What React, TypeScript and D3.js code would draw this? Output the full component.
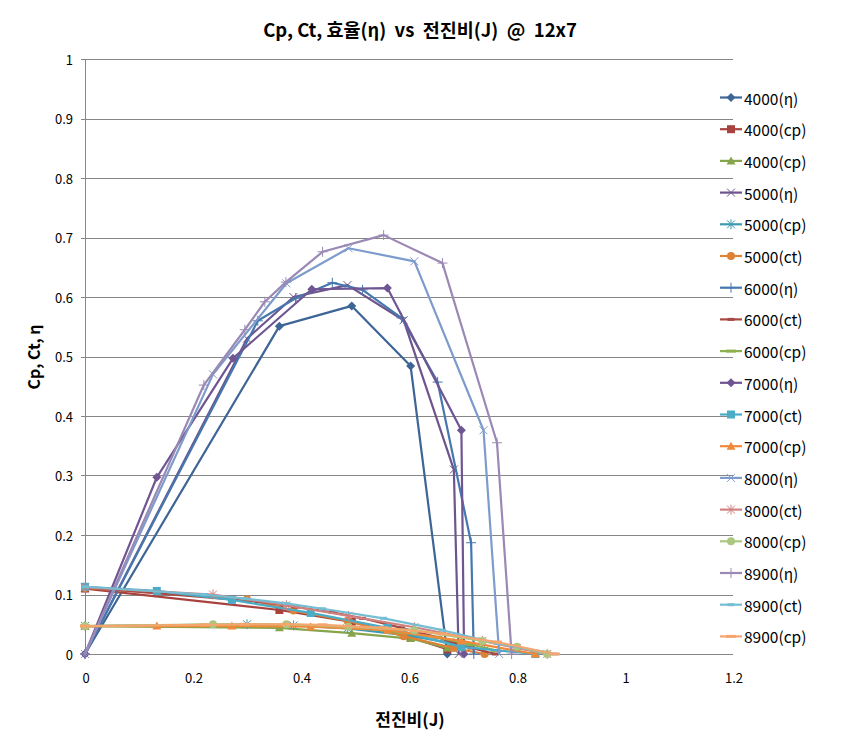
import React from "react";
import * as d3 from "d3";

// ---- data ----
const J_4000_ETA = [0, 0.36, 0.494, 0.603, 0.671];
const ETA_4000 = [0, 0.551, 0.585, 0.484, 0];
const J_4000_C = [0, 0.36, 0.494, 0.603, 0.671];
const CT_4000 = [0.11, 0.074, 0.054, 0.028, 0.008];
const CP_4000 = [0.047, 0.044, 0.035, 0.026, 0.01];

const J_5000_ETA = [0, 0.3, 0.386, 0.486, 0.59, 0.683, 0.692];
const ETA_5000 = [0, 0.53, 0.6, 0.62, 0.561, 0.31, 0];
const J_5000_C = [0, 0.3, 0.386, 0.486, 0.59, 0.683, 0.74];
const CP_5000 = [0.047, 0.05, 0.048, 0.043, 0.032, 0.018, 0.006];
const CT_5000 = [0.111, 0.092, 0.073, 0.056, 0.03, 0.01, 0.0];

const J_6000_ETA = [0, 0.32, 0.39, 0.458, 0.514, 0.586, 0.653, 0.715, 0.72];
const ETA_6000 = [0, 0.56, 0.598, 0.624, 0.612, 0.565, 0.457, 0.187, 0];
const J_6000_C = [0, 0.32, 0.39, 0.458, 0.514, 0.586, 0.653, 0.715, 0.76];
const CT_6000 = [0.112, 0.088, 0.079, 0.07, 0.06, 0.044, 0.028, 0.01, 0.0];
const CP_6000 = [0.047, 0.049, 0.048, 0.046, 0.044, 0.036, 0.028, 0.016, 0.006];

const J_7000_ETA = [0, 0.133, 0.274, 0.42, 0.56, 0.697, 0.702];
const ETA_7000 = [0, 0.297, 0.497, 0.613, 0.615, 0.376, 0];
const J_7000_C = [0, 0.133, 0.272, 0.418, 0.56, 0.697, 0.834];
const CT_7000 = [0.113, 0.106, 0.091, 0.069, 0.044, 0.012, 0.0];
const CP_7000 = [0.047, 0.047, 0.047, 0.046, 0.04, 0.022, 0.0];

const J_8000_ETA = [0, 0.237, 0.373, 0.488, 0.61, 0.738, 0.767];
const ETA_8000 = [0, 0.47, 0.623, 0.682, 0.66, 0.376, 0];
const J_8000_C = [0, 0.237, 0.373, 0.488, 0.61, 0.736, 0.8, 0.856];
const CT_8000 = [0.112, 0.1, 0.082, 0.064, 0.045, 0.022, 0.01, 0.0];
const CP_8000 = [0.047, 0.05, 0.05, 0.046, 0.04, 0.022, 0.012, 0.0];

const J_8900_ETA = [0, 0.22, 0.296, 0.333, 0.372, 0.44, 0.553, 0.662, 0.763, 0.79];
const ETA_8900 = [0, 0.452, 0.545, 0.592, 0.625, 0.676, 0.704, 0.657, 0.355, 0];
const J_8900_C = [0, 0.22, 0.296, 0.372, 0.44, 0.553, 0.662, 0.763, 0.87];
const CT_8900 = [0.113, 0.1, 0.093, 0.085, 0.076, 0.06, 0.04, 0.018, 0.0];
const CP_8900 = [0.047, 0.049, 0.05, 0.05, 0.049, 0.044, 0.034, 0.02, 0.0];

const X_TICKS = [0, 0.2, 0.4, 0.6, 0.8, 1, 1.2];
const Y_TICKS = [0, 0.1, 0.2, 0.3, 0.4, 0.5, 0.6, 0.7, 0.8, 0.9, 1];

const TITLE = "Cp, Ct, 효율(η)  vs  전진비(J)  @  12x7";
const X_TITLE = "전진비(J)";
const Y_TITLE = "Cp, Ct, η";

type Marker = "diamond" | "square" | "triangle" | "x" | "star" | "circle" | "plus" | "dash" | "longdash";

const SERIES: { name: string; xs: number[]; ys: number[]; color: string; marker: Marker }[] = [
  { name: "4000(η)", xs: J_4000_ETA, ys: ETA_4000, color: "#3D6596", marker: "diamond" },
  { name: "4000(cp)", xs: J_4000_C, ys: CT_4000, color: "#A8423F", marker: "square" },
  { name: "4000(cp)", xs: J_4000_C, ys: CP_4000, color: "#86A44A", marker: "triangle" },
  { name: "5000(η)", xs: J_5000_ETA, ys: ETA_5000, color: "#6E548D", marker: "x" },
  { name: "5000(cp)", xs: J_5000_C, ys: CP_5000, color: "#3C9AB2", marker: "star" },
  { name: "5000(ct)", xs: J_5000_C, ys: CT_5000, color: "#DD8236", marker: "circle" },
  { name: "6000(η)", xs: J_6000_ETA, ys: ETA_6000, color: "#4677AE", marker: "plus" },
  { name: "6000(ct)", xs: J_6000_C, ys: CT_6000, color: "#A84845", marker: "dash" },
  { name: "6000(cp)", xs: J_6000_C, ys: CP_6000, color: "#8CB050", marker: "longdash" },
  { name: "7000(η)", xs: J_7000_ETA, ys: ETA_7000, color: "#6F5592", marker: "diamond" },
  { name: "7000(ct)", xs: J_7000_C, ys: CT_7000, color: "#4BACC6", marker: "square" },
  { name: "7000(cp)", xs: J_7000_C, ys: CP_7000, color: "#F08A3A", marker: "triangle" },
  { name: "8000(η)", xs: J_8000_ETA, ys: ETA_8000, color: "#7D9BCB", marker: "x" },
  { name: "8000(ct)", xs: J_8000_C, ys: CT_8000, color: "#D08280", marker: "star" },
  { name: "8000(cp)", xs: J_8000_C, ys: CP_8000, color: "#AAC77F", marker: "circle" },
  { name: "8900(η)", xs: J_8900_ETA, ys: ETA_8900, color: "#9A89B4", marker: "plus" },
  { name: "8900(ct)", xs: J_8900_C, ys: CT_8900, color: "#75BDD2", marker: "dash" },
  { name: "8900(cp)", xs: J_8900_C, ys: CP_8900, color: "#F6A56E", marker: "longdash" },
];

const FONT = "'Noto Sans CJK KR', 'Noto Sans', sans-serif";

function MarkerShape({ type, cx, cy, color }: { type: Marker; cx: number; cy: number; color: string }) {
  const s = 4;
  switch (type) {
    case "diamond":
      return <path d={`M${cx},${cy - 4.5}L${cx + 4.5},${cy}L${cx},${cy + 4.5}L${cx - 4.5},${cy}Z`} fill={color} />;
    case "square":
      return <rect x={cx - 4} y={cy - 4} width={8} height={8} fill={color} />;
    case "triangle":
      return <path d={`M${cx},${cy - 4.5}L${cx + 4.5},${cy + 3.5}L${cx - 4.5},${cy + 3.5}Z`} fill={color} />;
    case "circle":
      return <circle cx={cx} cy={cy} r={4} fill={color} />;
    case "x":
      return (
        <path d={`M${cx - s},${cy - s}L${cx + s},${cy + s}M${cx - s},${cy + s}L${cx + s},${cy - s}`} stroke={color} strokeWidth={1} fill="none" />
      );
    case "star":
      return (
        <path
          d={`M${cx - s},${cy - s}L${cx + s},${cy + s}M${cx - s},${cy + s}L${cx + s},${cy - s}M${cx},${cy - s - 1}L${cx},${cy + s + 1}`}
          stroke={color}
          strokeWidth={1}
          fill="none"
        />
      );
    case "plus":
      return <path d={`M${cx - 5},${cy}L${cx + 5},${cy}M${cx},${cy - 5}L${cx},${cy + 5}`} stroke={color} strokeWidth={1} fill="none" />;
    case "dash":
      return <rect x={cx - 3.5} y={cy - 1.5} width={7} height={3} fill={color} />;
    case "longdash":
      return <rect x={cx - 5} y={cy - 1.5} width={10} height={3} fill={color} />;
  }
  return null;
}

export default function App() {
  const W = 848;
  const H = 752;
  const x = d3.scaleLinear().domain([0, 1.2]).range([85, 733]);
  const y = d3.scaleLinear().domain([0, 1]).range([654, 59]);
  const line = d3
    .line<[number, number]>()
    .x((d) => x(d[0]))
    .y((d) => y(d[1]));

  const legendX = 720;
  const legendY0 = 97.5;
  const legendStep = 31.7;

  return (
    <div style={{ position: "absolute", left: 0, top: 0 }}>
      <svg width={W} height={H} style={{ display: "block", background: "#fff" }}>
        <rect width={W} height={H} fill="#fff" />
        {/* gridlines */}
        {Y_TICKS.map((t) => (
          <line key={"g" + t} x1={x(0)} x2={x(1.2)} y1={Math.round(y(t)) + 0.5} y2={Math.round(y(t)) + 0.5} stroke="#868686" strokeWidth={1} />
        ))}
        {/* y axis */}
        <line x1={x(0) + 0.5} x2={x(0) + 0.5} y1={y(1)} y2={y(0)} stroke="#868686" strokeWidth={1} />
        {Y_TICKS.map((t) => (
          <line key={"yt" + t} x1={x(0) - 4} x2={x(0)} y1={Math.round(y(t)) + 0.5} y2={Math.round(y(t)) + 0.5} stroke="#868686" strokeWidth={1} />
        ))}
        {/* tick labels */}
        {Y_TICKS.map((t) => (
          <text key={"yl" + t} x={73} y={y(t)} textAnchor="end" dominantBaseline="central" fontSize={13} fontFamily={FONT} fill="#000">
            {d3.format("~g")(t)}
          </text>
        ))}
        {X_TICKS.map((t) => (
          <text key={"xl" + t} x={x(t) + 1} y={677} textAnchor="middle" dominantBaseline="central" fontSize={13} fontFamily={FONT} fill="#000">
            {d3.format("~g")(t)}
          </text>
        ))}
        {/* series */}
        {SERIES.map((s, i) => {
          const pts = s.xs.map((v, k) => [v, s.ys[k]] as [number, number]);
          return (
            <g key={"s" + i}>
              <path d={line(pts) || ""} fill="none" stroke={s.color} strokeWidth={2.2} strokeLinejoin="round" />
              {pts.map((p, k) => (
                <MarkerShape key={k} type={s.marker} cx={x(p[0])} cy={y(p[1])} color={s.color} />
              ))}
            </g>
          );
        })}
        {/* legend */}
        {SERIES.map((s, i) => {
          const cy = legendY0 + i * legendStep;
          return (
            <g key={"l" + i}>
              <line x1={legendX} x2={legendX + 22} y1={cy} y2={cy} stroke={s.color} strokeWidth={2.2} />
              <MarkerShape type={s.marker} cx={legendX + 11} cy={cy} color={s.color} />
              <text x={legendX + 24} y={cy} dominantBaseline="central" fontSize={15.5} fontFamily={FONT} fill="#000">
                {s.name}
              </text>
            </g>
          );
        })}
        {/* titles */}
        <text
          x={420}
          y={29}
          textAnchor="middle"
          dominantBaseline="central"
          fontSize={18.5}
          fontWeight="bold"
          fontFamily={FONT}
          fill="#000"
          style={{ whiteSpace: "pre" }}
        >
          {TITLE}
        </text>
        <text x={410} y={718} textAnchor="middle" dominantBaseline="central" fontSize={17} fontWeight="bold" fontFamily={FONT} fill="#000">
          {X_TITLE}
        </text>
        <text
          transform="translate(33,357) rotate(-90)"
          textAnchor="middle"
          dominantBaseline="central"
          fontSize={16}
          fontWeight="bold"
          fontFamily={FONT}
          fill="#000"
        >
          {Y_TITLE}
        </text>
      </svg>
    </div>
  );
}
